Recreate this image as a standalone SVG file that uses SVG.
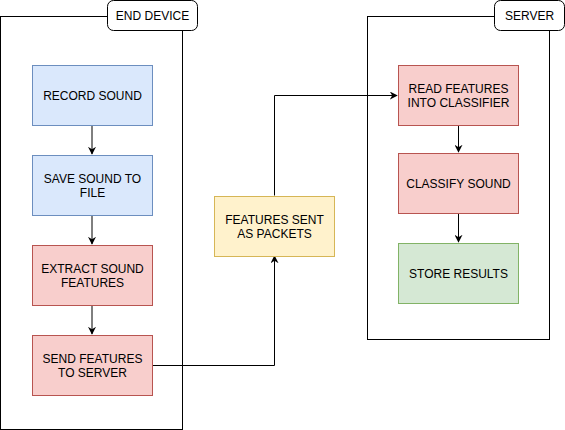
<svg xmlns="http://www.w3.org/2000/svg" width="565" height="430" viewBox="0 0 565 430">
<style>
text{font-family:"Liberation Sans",Arial,sans-serif;font-size:12px;fill:#000;text-anchor:middle}
.cont{fill:#fff;stroke:#000;stroke-width:1}
.lbl{fill:#fff;stroke:#000;stroke-width:1}
.blue{fill:#dae8fc;stroke:#6c8ebf}
.red{fill:#f8cecc;stroke:#b85450}
.green{fill:#d5e8d4;stroke:#82b366}
.yellow{fill:#fff2cc;stroke:#d6b656}
.edge{fill:none;stroke:#000;stroke-width:1}
</style>
<defs>
<marker id="ah" viewBox="0 0 10 10" refX="9" refY="5" markerWidth="8" markerHeight="8" markerUnits="userSpaceOnUse" orient="auto">
<path d="M0,0 L10,5 L0,10 L3,5 Z" fill="#000"/>
</marker>
</defs>
<g id="end-device">
<rect class="cont" x="0.5" y="16.5" width="182" height="413"/>
<rect class="lbl" x="107.5" y="0.5" width="90" height="30" rx="6"/>
<text x="152.5" y="20">END DEVICE</text>
</g>
<g id="server">
<rect class="cont" x="367.5" y="16.5" width="182" height="323"/>
<rect class="lbl" x="494.5" y="0.5" width="70" height="30" rx="6"/>
<text x="529.5" y="20">SERVER</text>
</g>
<g id="connectors">
<path class="edge" d="M92,125.5 V154" marker-end="url(#ah)"/>
<path class="edge" d="M92,215.5 V244" marker-end="url(#ah)"/>
<path class="edge" d="M92,305.5 V334" marker-end="url(#ah)"/>
<path class="edge" d="M152.5,365.5 H274.5 V256" marker-end="url(#ah)"/>
<path class="edge" d="M274.5,195.5 V95.5 H397" marker-end="url(#ah)"/>
<path class="edge" d="M458.5,125.5 V152" marker-end="url(#ah)"/>
<path class="edge" d="M458.5,213.5 V242" marker-end="url(#ah)"/>
</g>
<g id="record-sound">
<rect class="blue" x="32.5" y="65.5" width="120" height="60"/>
<text x="92.5" y="100">RECORD SOUND</text>
</g>
<g id="save-sound">
<rect class="blue" x="32.5" y="155.5" width="120" height="60"/>
<text x="92.5" y="183">SAVE SOUND TO</text>
<text x="92.5" y="197">FILE</text>
</g>
<g id="extract-features">
<rect class="red" x="32.5" y="245.5" width="120" height="60"/>
<text x="92.5" y="273">EXTRACT SOUND</text>
<text x="92.5" y="287">FEATURES</text>
</g>
<g id="send-features">
<rect class="red" x="32.5" y="335.5" width="120" height="60"/>
<text x="92.5" y="363">SEND FEATURES</text>
<text x="92.5" y="377">TO SERVER</text>
</g>
<g id="features-sent">
<rect class="yellow" x="214.5" y="196.5" width="120" height="60"/>
<text x="274.5" y="224">FEATURES SENT</text>
<text x="274.5" y="238">AS PACKETS</text>
</g>
<g id="read-features">
<rect class="red" x="398.5" y="65.5" width="120" height="60"/>
<text x="458.5" y="93">READ FEATURES</text>
<text x="458.5" y="107">INTO CLASSIFIER</text>
</g>
<g id="classify-sound">
<rect class="red" x="398.5" y="153.5" width="120" height="60"/>
<text x="458.5" y="188">CLASSIFY SOUND</text>
</g>
<g id="store-results">
<rect class="green" x="398.5" y="243.5" width="120" height="60"/>
<text x="458.5" y="278">STORE RESULTS</text>
</g>
</svg>
